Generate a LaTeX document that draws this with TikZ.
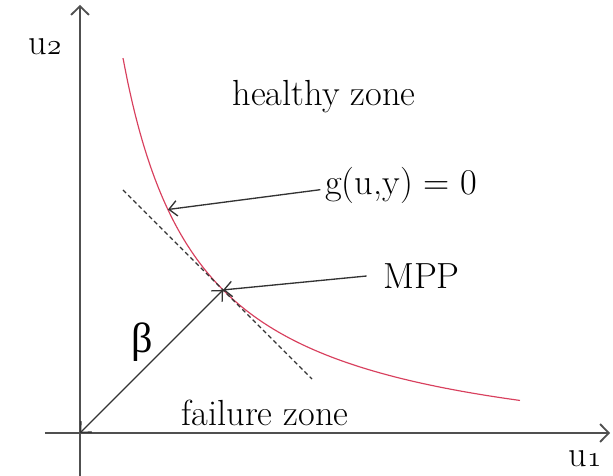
\documentclass[tikz,border=0pt]{standalone}
\usepackage{amsmath,amssymb}
\usepackage{fontspec}
\usepackage{xcolor}
\usepackage{tikz}
\usetikzlibrary{positioning,arrows.meta}
\newfontfamily\greekfont{Liberation Serif}
\newcommand{\osdigit}[1]{{\usefont{OML}{lmm}{m}{it}#1}}
\definecolor{limitred}{HTML}{D8405E}
\definecolor{axisgrey}{HTML}{505050}
\definecolor{leadgrey}{HTML}{333333}
\tikzset{
  axis/.style={draw=axisgrey,line width=0.55mm,-{Straight Barb[length=2.6mm,width=5.4mm]}},
  leader/.style={draw=leadgrey,line width=0.4mm,-{Straight Barb[length=2.4mm,width=4.6mm]}},
  zonelabel/.style={inner sep=0pt}
}
\begin{document}
\begin{tikzpicture}[x=0.03cm,y=0.03cm,every node/.style={font=\fontsize{31}{36}\selectfont}]
  \useasboundingbox (-80,-43) rectangle (533,433);
  % ---- axes in standard normal space ----
  \coordinate (O) at (0,0);
  \coordinate (xs) at (-35,0);
  \coordinate (xe) at (530,0);
  \coordinate (ys) at (0,-43);
  \coordinate (ye) at (0,428);
  \draw[axis] (xs) -- (xe);
  \draw[axis] (ys) -- (ye);
  \node[inner sep=0pt] (u1) at (505,-26) {u\osdigit{1}};
  \node[inner sep=0pt] (u2) at (-35,386) {u\osdigit{2}};
  % ---- limit state g(u,y)=0 and its tangent at the MPP ----
  \draw[limitred,line width=0.35mm,domain=43:440,samples=80,smooth]
    plot (\x,{-33+310/((\x+33)/100)});
  \coordinate (mpp) at (143.07,143.07);
  \coordinate (t1) at (43,243);
  \coordinate (t2) at (232,54);
  \draw[leadgrey,line width=0.35mm,dash pattern=on 1.3mm off 0.9mm] (t1) -- (t2);
  \coordinate (gtip) at (88,223.5);
  % ---- labels and leaders ----
  \node[zonelabel] (healthy) at (244,336) {healthy zone};
  \node[zonelabel] (failure) at (185,20) {failure zone};
  \node[anchor=west,inner sep=0pt] (glab) at (245,248) {g(u,y) = 0};
  \node[anchor=west,inner sep=0pt] (mpplab) at (303,157) {MPP};
  \node (beta) at (62,91) {\greekfont\fontsize{36}{40}\selectfont β};
  \draw[leader] ([xshift=-4pt,yshift=-4pt]glab.west) -- (gtip);
  \draw[leader] ([xshift=-14pt]mpplab.west) -- (mpp);
  \draw[leader,{Straight Barb[length=2.4mm,width=4.6mm]}-{Straight Barb[length=2.4mm,width=4.6mm]}] (O) -- (mpp);
\end{tikzpicture}
\end{document}
